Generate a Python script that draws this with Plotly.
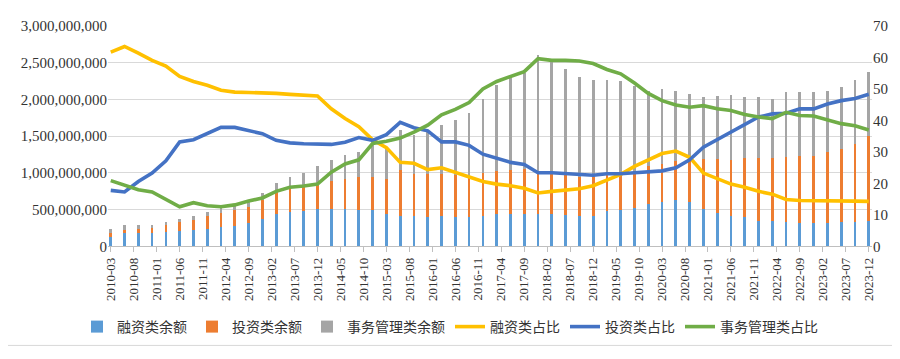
import numpy as np
import plotly.graph_objects as go

# ---------------- data ----------------
start_year, start_month = 2010, 3
n_q = 56
quarters = []
for i in range(n_q):
    m = start_month - 1 + 3 * i
    quarters.append(f"{start_year + m // 12}-{m % 12 + 1:02d}")

# balances in billions
fin_bal = [0.13, 0.18, 0.18, 0.18, 0.20, 0.21, 0.22, 0.24, 0.26, 0.28, 0.32, 0.37, 0.44, 0.47,
           0.485, 0.51, 0.51, 0.51, 0.49, 0.49, 0.44, 0.42, 0.42, 0.40, 0.42, 0.40, 0.40, 0.42,
           0.44, 0.44, 0.44, 0.44, 0.44, 0.43, 0.42, 0.42, 0.48, 0.49, 0.52, 0.58, 0.60, 0.63,
           0.60, 0.51, 0.45, 0.42, 0.40, 0.35, 0.35, 0.33, 0.32, 0.32, 0.32, 0.33, 0.33, 0.35]
inv_bal = [0.05, 0.05, 0.06, 0.07, 0.09, 0.125, 0.14, 0.18, 0.20, 0.215, 0.22, 0.26, 0.30, 0.32,
           0.33, 0.36, 0.38, 0.41, 0.45, 0.46, 0.48, 0.62, 0.57, 0.59, 0.56, 0.57, 0.55, 0.58,
           0.59, 0.60, 0.61, 0.59, 0.57, 0.55, 0.53, 0.52, 0.52, 0.53, 0.51, 0.51, 0.52, 0.53,
           0.60, 0.68, 0.74, 0.76, 0.80, 0.86, 0.85, 0.89, 0.91, 0.91, 0.96, 1.00, 1.06, 1.15]
aff_bal = [0.06, 0.06, 0.05, 0.045, 0.04, 0.035, 0.05, 0.055, 0.06, 0.075, 0.06, 0.10, 0.13, 0.16,
           0.185, 0.22, 0.28, 0.32, 0.35, 0.44, 0.42, 0.55, 0.52, 0.57, 0.67, 0.75, 0.86, 1.00,
           1.17, 1.25, 1.31, 1.58, 1.50, 1.44, 1.36, 1.32, 1.26, 1.23, 1.16, 1.02, 1.02, 0.96,
           0.87, 0.85, 0.86, 0.88, 0.84, 0.83, 0.80, 0.88, 0.87, 0.87, 0.84, 0.84, 0.87, 0.88]

# shares in percent
fin_pct = [61.7, 63.5, 61.4, 59.1, 57.3, 54.0, 52.4, 51.2, 49.6, 49.0, 48.9, 48.8, 48.6, 48.3,
           48.1, 47.8, 43.7, 40.6, 38.0, 33.9, 31.4, 26.7, 26.4, 24.4, 25.0, 23.6, 21.9, 20.6,
           19.8, 19.3, 18.5, 17.0, 17.5, 18.0, 18.3, 19.3, 21.1, 22.9, 25.4, 27.5, 29.5, 30.3,
           28.3, 23.3, 21.6, 19.8, 18.8, 17.5, 16.6, 14.9, 14.6, 14.6, 14.5, 14.4, 14.4, 14.3]
inv_pct = [17.8, 17.3, 20.6, 23.3, 27.2, 33.2, 33.9, 36.0, 37.8, 37.8, 36.8, 35.8, 33.7, 32.9,
           32.6, 32.6, 32.4, 33.1, 34.6, 33.7, 35.5, 39.4, 37.7, 36.7, 33.2, 33.2, 32.1, 29.3,
           28.1, 26.7, 26.0, 23.4, 23.4, 23.1, 22.9, 22.6, 23.1, 23.1, 23.4, 23.6, 24.0, 25.0,
           27.5, 31.5, 33.9, 36.5, 39.0, 41.1, 42.1, 42.3, 43.7, 43.7, 45.2, 46.3, 47.0, 48.3]
aff_pct = [20.9, 19.5, 18.0, 17.3, 14.9, 12.6, 13.9, 12.9, 12.6, 13.2, 14.4, 15.4, 17.5, 18.8,
           19.2, 19.8, 23.6, 26.2, 27.5, 32.7, 33.4, 34.4, 36.3, 38.5, 41.8, 43.5, 45.7, 50.0,
           52.4, 54.0, 55.5, 59.6, 59.1, 59.1, 58.9, 58.1, 56.2, 54.8, 51.9, 48.6, 46.3, 44.9,
           44.2, 44.7, 43.7, 43.2, 41.9, 41.1, 40.6, 42.6, 41.6, 41.4, 40.1, 39.0, 38.3, 37.0]

# tick labels every 5 months
tick_labels = []
for k in range(0, 166, 5):
    m = start_month - 1 + k
    tick_labels.append(f"{start_year + m // 12}-{m % 12 + 1:02d}")

names_bar = ["融资类余额", "投资类余额", "事务管理类余额"]
names_line = ["融资类占比", "投资类占比", "事务管理类占比"]

# ---------------- figure ----------------
def month_index(lbl):
    y, m = map(int, lbl.split("-"))
    return (y - start_year) * 12 + (m - start_month)

x = [month_index(q) for q in quarters]
tickvals = [month_index(t) for t in tick_labels]

bar_colors = ["#5B9BD5", "#ED7D31", "#A5A5A5"]
line_colors = ["#FFC000", "#4472C4", "#70AD47"]

fig = go.Figure()
for name, vals, col in zip(names_bar, [fin_bal, inv_bal, aff_bal], bar_colors):
    fig.add_trace(go.Bar(x=x, y=np.array(vals) * 1e9, name=name, marker_color=col,
                         marker_line_width=0, width=0.6, yaxis="y"))
for name, vals, col in zip(names_line, [fin_pct, inv_pct, aff_pct], line_colors):
    fig.add_trace(go.Scatter(x=x, y=vals, name=name, mode="lines",
                             line=dict(color=col, width=3.6), yaxis="y2"))

serif = "Liberation Serif, Times New Roman, serif"
tick_font = dict(family=serif, size=15, color="#333333")

# page body has an 8px margin; the figure is sized/offset so the plot sits where the reference has it
W, H = 892, 351
ML, MR, MT, MB = 100, 28, 10, 106
pw, ph = W - ML - MR, H - MT - MB

fig.update_layout(
    width=W, height=H,
    margin=dict(l=ML, r=MR, t=MT, b=MB),
    paper_bgcolor="white", plot_bgcolor="white",
    barmode="stack", bargap=0,
    showlegend=True,
    legend=dict(orientation="h", xref="container", yref="container",
                x=442 / W, xanchor="center", y=1 - 319 / H, yanchor="middle",
                font=dict(family="Noto Sans CJK SC", size=14, color="#333333"),
                itemwidth=30, traceorder="normal"),
    xaxis=dict(range=[-0.6, 165.7], tickmode="array", tickvals=tickvals, ticktext=tick_labels,
               tickangle=-90, tickfont=dict(family=serif, size=13, color="#333333"),
               showgrid=False, showline=True, linecolor="#BFBFBF", linewidth=1,
               ticks="outside", ticklen=5, tickcolor="#BFBFBF", zeroline=False),
    yaxis=dict(range=[0, 3e9], dtick=5e8, tickformat=",.0f", tickfont=tick_font,
               showgrid=True, gridcolor="#D9D9D9", gridwidth=1, zeroline=False,
               showline=False, ticks=""),
    yaxis2=dict(range=[0, 70], dtick=10, overlaying="y", side="right", tickfont=tick_font,
                showgrid=False, zeroline=False, showline=False, ticks=""),
    shapes=[dict(type="rect", xref="paper", yref="paper",
                 x0=(-20 - ML) / pw, x1=(W - 0.5 - ML) / pw,
                 y0=(-(H - 0.5 - MT - ph)) / ph, y1=(ph + 20) / ph,
                 line=dict(color="#D9D9D9", width=1), fillcolor="rgba(0,0,0,0)", layer="below")],
)

fig.write_html("out.html")
